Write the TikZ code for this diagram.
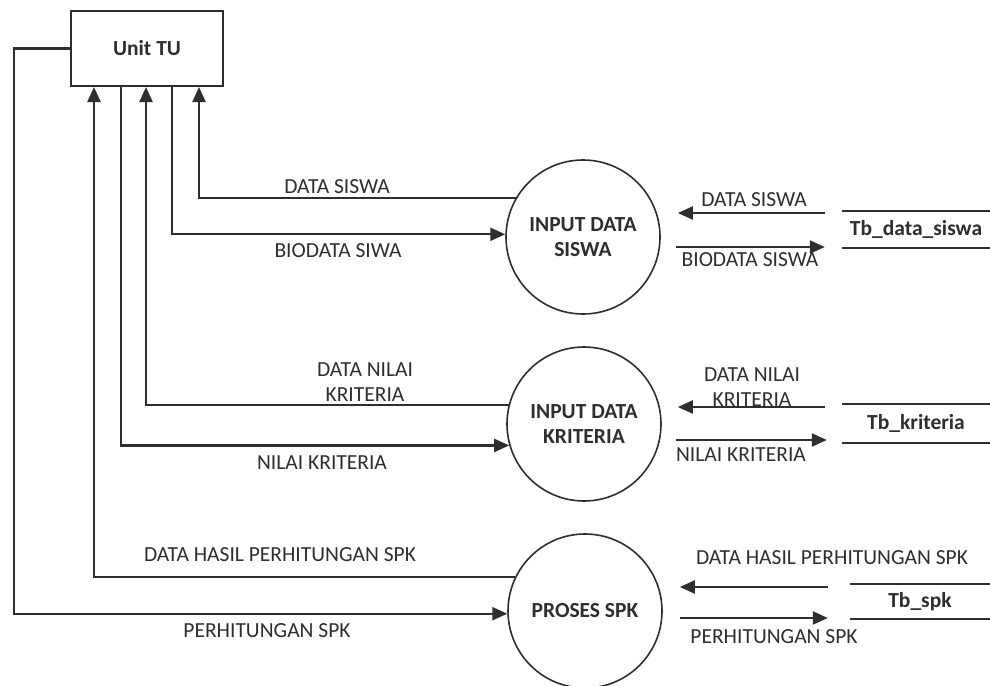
\documentclass[tikz,border=0pt]{standalone}
\usepackage{fontspec}
\setmainfont{Carlito}
\usetikzlibrary{arrows.meta}
\definecolor{ink}{HTML}{2E2E2E}
\begin{document}
\begin{tikzpicture}[x=1pt,y=-1pt,
  every node/.style={font=\fontsize{21.5}{25}\selectfont, text=ink},
  flow/.style={draw=ink, line width=2.2pt, -{Triangle[length=15pt,width=13pt]}},
  entity/.style={draw=ink, line width=2pt, minimum width=152pt, minimum height=75pt,
    font=\fontsize{21.5}{25}\selectfont\bfseries},
  process/.style={circle, draw=ink, line width=1.6pt, minimum size=154pt, inner sep=0pt,
    align=center, font=\fontsize{21.5}{25}\selectfont\bfseries},
  store/.style={inner sep=0pt, minimum height=37pt, font=\fontsize{21.5}{25}\selectfont\bfseries},
  storeline/.style={draw=ink, line width=1.6pt},
  lbl/.style={inner sep=0pt, align=center}
]
\useasboundingbox (0,0) rectangle (990,685);

% external entity
\node[entity] (tu) at (147,48.5) {Unit TU};

% processes
\node[process] (siswa) at (583,237) {INPUT DATA\\SISWA};
\node[process] (kriteria) at (584,424) {INPUT DATA\\KRITERIA};
\node[process] (proses) at (585,611) {PROSES SPK};

% data stores
\node[store, minimum width=148pt] (tbsiswa) at (916,229.5) {Tb\_data\_siswa};
\node[store, minimum width=148pt, minimum height=39pt] (tbkrit) at (916,423.5) {Tb\_kriteria};
\node[store, minimum width=140pt, minimum height=35pt] (tbspk) at (920,601.5) {Tb\_spk};
\foreach \s in {tbsiswa,tbkrit,tbspk}{
  \draw[storeline] (\s.north west) -- (\s.north east);
  \draw[storeline] (\s.south west) -- (\s.south east);
}

% flows between Unit TU and the processes
\draw[flow] (siswa.150) -| ([xshift=129pt]tu.south west);
\draw[flow] ([xshift=102pt]tu.south west) |- (siswa.178);
\draw[flow] (kriteria.166) -| ([xshift=76pt]tu.south west);
\draw[flow] ([xshift=51pt]tu.south west) |- (kriteria.196);
\draw[flow] (proses.154) -| ([xshift=24pt]tu.south west);
\coordinate (outer) at (14,0);
\draw[flow] (tu.west) -| (outer |- proses.182) -- (proses.182);

% flows between the processes and the data stores
\draw[flow, shorten <=17pt, shorten >=17pt] (tbsiswa.west |- 0,213) -- (siswa.east |- 0,213);
\draw[flow, shorten <=15pt, shorten >=17pt] (siswa.east |- 0,247) -- (tbsiswa.west |- 0,247);
\draw[flow, shorten <=17pt, shorten >=16pt] (tbkrit.west |- 0,407) -- (kriteria.east |- 0,407);
\draw[flow, shorten <=14pt, shorten >=15pt] (kriteria.east |- 0,440) -- (tbkrit.west |- 0,440);
\draw[flow, shorten <=22pt, shorten >=17pt] (tbspk.west |- 0,587) -- (proses.east |- 0,587);
\draw[flow, shorten <=17pt, shorten >=22pt] (proses.east |- 0,618) -- (tbspk.west |- 0,618);

% flow labels, left side
\node[lbl] (l1) at (337,187) {DATA SISWA};
\node[lbl] (l2) at (338,251) {BIODATA SIWA};
\node[lbl] (l3) at (365,382.5) {DATA NILAI\\KRITERIA};
\node[lbl] (l4) at (322,463) {NILAI KRITERIA};
\node[lbl] (l5) at (280,555) {DATA HASIL PERHITUNGAN SPK};
\node[lbl] (l6) at (267,631) {PERHITUNGAN SPK};

% flow labels, right side
\node[lbl] (r1) at (754,200) {DATA SISWA};
\node[lbl] (r2) at (750,260) {BIODATA SISWA};
\node[lbl] (r3) at (752,387.5) {DATA NILAI\\KRITERIA};
\node[lbl] (r4) at (741,455) {NILAI KRITERIA};
\node[lbl] (r5) at (832,558) {DATA HASIL PERHITUNGAN SPK};
\node[lbl] (r6) at (774,637) {PERHITUNGAN SPK};
\end{tikzpicture}
\end{document}
